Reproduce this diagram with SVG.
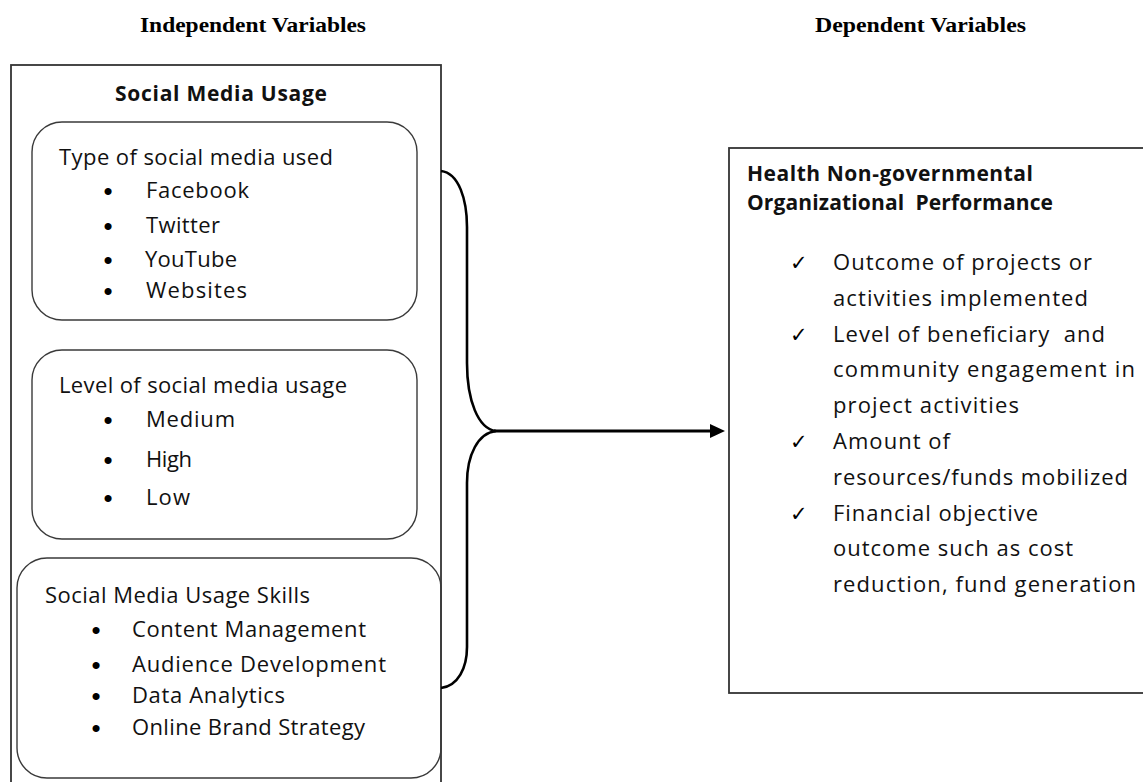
<svg xmlns="http://www.w3.org/2000/svg" width="1143" height="782" viewBox="0 0 1143 782">
<defs>
<style>
.hdr{font-family:"Liberation Serif","Times New Roman",serif;font-weight:bold;font-size:22px;fill:#000}
.ttl{font-family:"Open Sans","Noto Sans",sans-serif;font-weight:bold;font-size:21px;fill:#111}
.txt{font-family:"Open Sans","Noto Sans",sans-serif;font-size:22px;fill:#111}
.bul{font-family:"Liberation Sans",Arial,sans-serif;font-size:26px;fill:#000;text-anchor:middle}
.chk{font-family:"DejaVu Sans",sans-serif;font-size:21px;fill:#000}
.outer{fill:none;stroke:#333;stroke-width:1.8}
.rbox{fill:none;stroke:#3a3a3a;stroke-width:1.4}
.brace{fill:none;stroke:#000;stroke-width:2.6}
.arrow{fill:none;stroke:#000;stroke-width:3}
</style>
<marker id="ah" markerUnits="userSpaceOnUse" viewBox="0 0 15 14" refX="5" refY="7" markerWidth="15" markerHeight="14" orient="auto">
<path d="M0,0 L15,7 L0,14 z" fill="#000"/>
</marker>
</defs>
<rect width="1143" height="782" fill="#fff"/>

<g id="headers">
<text class="hdr" x="140" y="32" textLength="226" lengthAdjust="spacingAndGlyphs">Independent Variables</text>
<text class="hdr" x="815" y="32" textLength="211" lengthAdjust="spacingAndGlyphs">Dependent Variables</text>
</g>

<g id="social-media-usage">
<rect class="outer" x="11" y="65" width="430" height="740"/>
<text class="ttl" x="115" y="101" textLength="212">Social Media Usage</text>
</g>

<g id="type-of-social-media">
<rect class="rbox" x="32" y="122" width="385" height="198" rx="30" ry="30"/>
<text class="txt" x="59" y="165" textLength="274">Type of social media used</text>
<text class="bul" x="108" y="200">•</text>
<text class="txt" x="146" y="198" textLength="103">Facebook</text>
<text class="bul" x="108" y="235">•</text>
<text class="txt" x="146" y="233" textLength="74">Twitter</text>
<text class="bul" x="108" y="269">•</text>
<text class="txt" x="145" y="267" textLength="92">YouTube</text>
<text class="bul" x="108" y="300">•</text>
<text class="txt" x="146" y="298" textLength="101">Websites</text>
</g>

<g id="level-of-usage">
<rect class="rbox" x="32" y="350" width="385" height="189" rx="30" ry="30"/>
<text class="txt" x="59" y="393" textLength="288">Level of social media usage</text>
<text class="bul" x="108" y="429">•</text>
<text class="txt" x="146" y="427" textLength="89">Medium</text>
<text class="bul" x="108" y="469">•</text>
<text class="txt" x="146" y="467" textLength="46">High</text>
<text class="bul" x="108" y="507">•</text>
<text class="txt" x="146" y="505" textLength="44">Low</text>
</g>

<g id="usage-skills">
<rect class="rbox" x="17" y="558" width="424" height="220" rx="30" ry="30"/>
<text class="txt" x="45" y="603" textLength="265">Social Media Usage Skills</text>
<text class="bul" x="96" y="639">•</text>
<text class="txt" x="132" y="637" textLength="234">Content Management</text>
<text class="bul" x="96" y="674">•</text>
<text class="txt" x="132" y="672" textLength="254">Audience Development</text>
<text class="bul" x="96" y="705">•</text>
<text class="txt" x="132" y="703" textLength="153">Data Analytics</text>
<text class="bul" x="96" y="737">•</text>
<text class="txt" x="132" y="735" textLength="233">Online Brand Strategy</text>
</g>

<g id="connectors">
<path class="brace" d="M441,171 C459,173 467,200 467,227 L467,363 C467,400 478,429 496,431 C478,433 467,455 467,483 L467,647 C467,668 458,686 441,688"/>
<line class="arrow" x1="494" y1="431" x2="715" y2="431" marker-end="url(#ah)"/>
</g>

<g id="performance">
<rect class="outer" x="729" y="148" width="430" height="545"/>
<text class="ttl" x="747" y="181" textLength="286">Health Non-governmental</text>
<text class="ttl" x="747" y="210" textLength="306" xml:space="preserve">Organizational  Performance</text>
<text class="chk" x="790" y="270">✓</text>
<text class="txt" x="833" y="270" textLength="259">Outcome of projects or</text>
<text class="txt" x="833" y="306" textLength="255">activities implemented</text>
<text class="chk" x="790" y="342">✓</text>
<text class="txt" x="833" y="342" textLength="272" xml:space="preserve">Level of beneficiary  and</text>
<text class="txt" x="833" y="377" textLength="302">community engagement in</text>
<text class="txt" x="833" y="413" textLength="186">project activities</text>
<text class="chk" x="790" y="449">✓</text>
<text class="txt" x="833" y="449" textLength="117">Amount of</text>
<text class="txt" x="833" y="485" textLength="295">resources/funds mobilized</text>
<text class="chk" x="790" y="521">✓</text>
<text class="txt" x="833" y="521" textLength="205">Financial objective</text>
<text class="txt" x="833" y="556" textLength="240">outcome such as cost</text>
<text class="txt" x="833" y="592" textLength="303">reduction, fund generation</text>
</g>
</svg>
